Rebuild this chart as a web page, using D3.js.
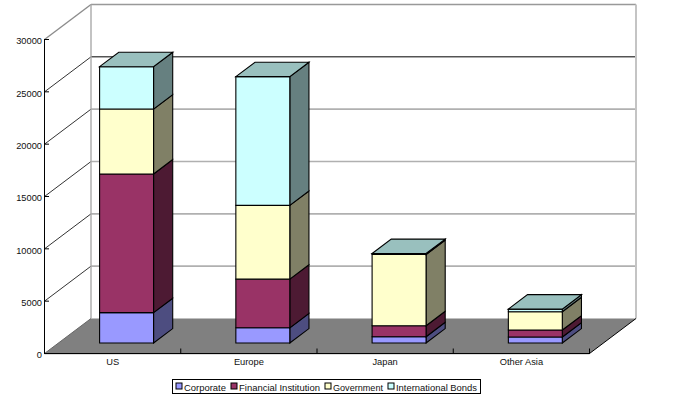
<!DOCTYPE html>
<html><head><meta charset="utf-8">
<script src="https://cdn.jsdelivr.net/npm/d3@7/dist/d3.min.js"></script>
<style>html,body{margin:0;padding:0;background:#fff}svg{display:block}
text{font-family:"Liberation Sans",Arial,sans-serif;fill:#111}</style></head>
<body><svg id="c" width="698" height="404"></svg>
<script>
const categories = ["US","Europe","Japan","Other Asia"];
const corporate = [2900,1450,600,570];
const financial = [13250,4650,1050,670];
const government = [6200,7050,6800,1750];
const international = [4050,12300,100,250];
const seriesNames = ["Corporate","Financial Institution","Government","International Bonds"];
const seriesValues = [corporate,financial,government,international];
const frontColors = ["#9999FF","#993366","#FFFFCC","#CCFFFF"];
const sideColors = ["#4D4D80","#4D1A33","#808066","#668080"];
const topColors = ["#8080c0","#732650","#c0c099","#99C0BE"];
const yTicks = [0,5000,10000,15000,20000,25000,30000];

const svg = d3.select("#c");
const x = d3.scaleBand().domain(categories).range([44.5,589.5]);
const y = d3.scaleLinear().domain([0,30000]).range([353.5,39.5]);
const dX = d3.scaleLinear().domain([0,1]).range([0,46.5]);
const dY = d3.scaleLinear().domain([0,1]).range([0,-35]);
const P = (px,val,depth)=>[px+dX(depth), y(val)+dY(depth)];
const poly = pts => d3.line()(pts)+"Z";
const x0=x.range()[0], x1=x.range()[1];

// walls
svg.append("path").attr("d",poly([P(x0,0,0),P(x1,0,0),P(x1,0,1),P(x0,0,1)])).attr("fill","#808080").attr("stroke","none");
// gridlines
yTicks.slice(1).forEach(v=>{
  const strong = v===25000;
  const top = v===30000;
  svg.append("path").attr("d",d3.line()([P(x0,v,0),P(x0,v,1)]))
    .attr("fill","none").attr("stroke",top?"#8c8c8c":"#333").attr("stroke-width",top?1.4:1);
  svg.append("path").attr("d",d3.line()([P(x0,v,1),P(x1,v,1)]))
    .attr("fill","none").attr("stroke",strong?"#000":(top?"#999":"#b0b0b0")).attr("stroke-width",strong?1:1.6);
});
svg.append("path").attr("d",d3.line()([P(x0,0,1),P(x0,30000,1)])).attr("fill","none").attr("stroke","#aaa").attr("stroke-width",1.4);
svg.append("path").attr("d",d3.line()([P(x1,0,1),P(x1,30000,1)])).attr("fill","none").attr("stroke","#c4c4c4").attr("stroke-width",2);
svg.append("path").attr("d",d3.line()([P(x0,0,0),P(x0,0,1)])).attr("fill","none").attr("stroke","#666").attr("stroke-width",1);
svg.append("path").attr("d",d3.line()([P(x1,0,0),P(x1,0,1)])).attr("fill","none").attr("stroke","#000").attr("stroke-width",1);

// bars
const fFront=0.3, fBack=0.712, barRatio=0.396;
categories.forEach((c,i)=>{
  const bw=x.bandwidth()*barRatio;
  const bl=x(c)+(x.bandwidth()-bw)/2, br=bl+bw;
  let acc=0;
  seriesValues.forEach((vals,s)=>{
    const a=acc,b=acc+vals[i]; acc=b;
    const g=svg.append("g").attr("stroke","#000").attr("stroke-width",1.1).attr("stroke-linejoin","miter");
    g.append("path").attr("d",poly([P(br,a,fFront),P(br,a,fBack),P(br,b,fBack),P(br,b,fFront)])).attr("fill",sideColors[s]);
    g.append("path").attr("d",poly([P(bl,a,fFront),P(br,a,fFront),P(br,b,fFront),P(bl,b,fFront)])).attr("fill",frontColors[s]);
    if(s===seriesValues.length-1)
      g.append("path").attr("d",poly([P(bl,b,fFront),P(br,b,fFront),P(br,b,fBack),P(bl,b,fBack)])).attr("fill",topColors[s]);
  });
});

// axes
const labelFont='"Liberation Sans",Arial,sans-serif';
const gy=svg.append("g").attr("transform",`translate(${x0-0.5},-0.5)`)
  .call(d3.axisLeft(y).tickValues(yTicks).tickFormat(d3.format("d")).tickSizeInner(-5).tickSizeOuter(0).tickPadding(2));
gy.selectAll("path,line").attr("stroke","#000").attr("stroke-width",1);
gy.selectAll("text").attr("font-size",9.3).attr("font-family",null).style("font-family",labelFont).attr("fill","#111").attr("dy","0.62em").attr("transform","translate(0,-1)");

const gx=svg.append("g").attr("transform",`translate(0,${y(0)-0.5})`)
  .call(d3.axisBottom(x).tickSize(0).tickPadding(5));
gx.select(".domain").attr("stroke","#000").attr("stroke-width",1);
gx.selectAll("text").attr("font-size",9.3).attr("font-family",null).style("font-family",labelFont).attr("fill","#111");
categories.forEach(c=>{
  const t=x(c)+x.bandwidth();
  svg.append("path").attr("d",d3.line()([[t,y(0)],[t,y(0)-5]])).attr("stroke","#000").attr("fill","none");
});
svg.append("path").attr("d",d3.line()([[x0,y(0)+1],[x1,y(0)+1]])).attr("stroke","#ddd").attr("fill","none");

// legend
const lg=svg.append("g");
lg.append("rect").attr("x",172.5).attr("y",379.5).attr("width",308).attr("height",14).attr("fill","#fff").attr("stroke","#000");
const swatchX=[176,231,325,388];
const labelW=[42,81,50,81];
seriesNames.forEach((n,i)=>{
  lg.append("rect").attr("x",swatchX[i]).attr("y",383).attr("width",6).attr("height",6).attr("fill",frontColors[i]).attr("stroke","#000");
  lg.append("text").attr("x",swatchX[i]+8).attr("y",391).attr("font-size",9.5).attr("textLength",labelW[i]).attr("lengthAdjust","spacingAndGlyphs").text(n);
});
</script></body></html>
